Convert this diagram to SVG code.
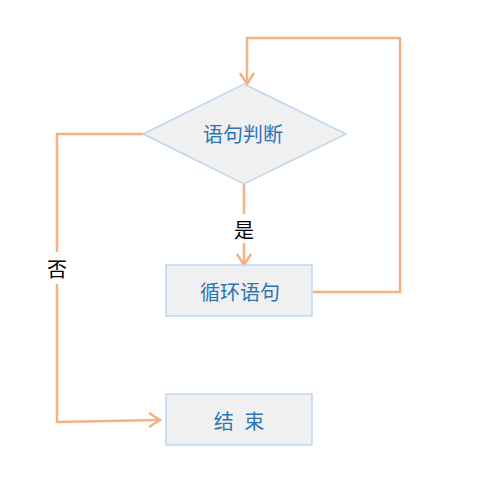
<svg xmlns="http://www.w3.org/2000/svg" width="493" height="485" viewBox="0 0 493 485">
<style>
.node{fill:#F0F0F0;stroke:#BDD7EE;stroke-width:1.5}
.t{font-family:"Noto Sans CJK SC","Noto Sans",sans-serif;font-size:20px;fill:#2E75B6;text-anchor:middle;dominant-baseline:central}
.lbl{font-family:"Noto Sans CJK SC","Noto Sans",sans-serif;font-size:20px;fill:#000;text-anchor:middle;dominant-baseline:central}
.c{fill:none;stroke:#F4B183;stroke-width:2.5}
.ah{fill:none;stroke:#F4B183;stroke-width:2.5}
</style>
<rect width="493" height="485" fill="#fff"/>
<g id="connectors">
<polyline class="c" points="313,292 400,292 400,38 247,38 247,83"/>
<polyline class="ah" points="240,73 247,84 254,73"/>
<line class="c" x1="244" y1="184" x2="244" y2="214"/>
<line class="c" x1="244" y1="243" x2="244" y2="264"/>
<polyline class="ah" points="237,254 244,265 251,254"/>
<polyline class="c" points="143,134 57,134 57,252"/>
<polyline class="c" points="57,284 57,422 159,420"/>
<polyline class="ah" points="149,413 160,420 149,427"/>
<text class="lbl" x="244" y="229">是</text>
<text class="lbl" x="57" y="268">否</text>
</g>
<g id="decision">
<polygon class="node" points="244,84 346,134 244,184 143,134"/>
<text class="t" x="243" y="133">语句判断</text>
</g>
<g id="loop">
<rect class="node" x="166" y="265" width="146" height="51"/>
<text class="t" x="240" y="291">循环语句</text>
</g>
<g id="end">
<rect class="node" x="166" y="394" width="146" height="51"/>
<text class="t" x="239" y="420" xml:space="preserve" word-spacing="6">结 束</text>
</g>
</svg>
